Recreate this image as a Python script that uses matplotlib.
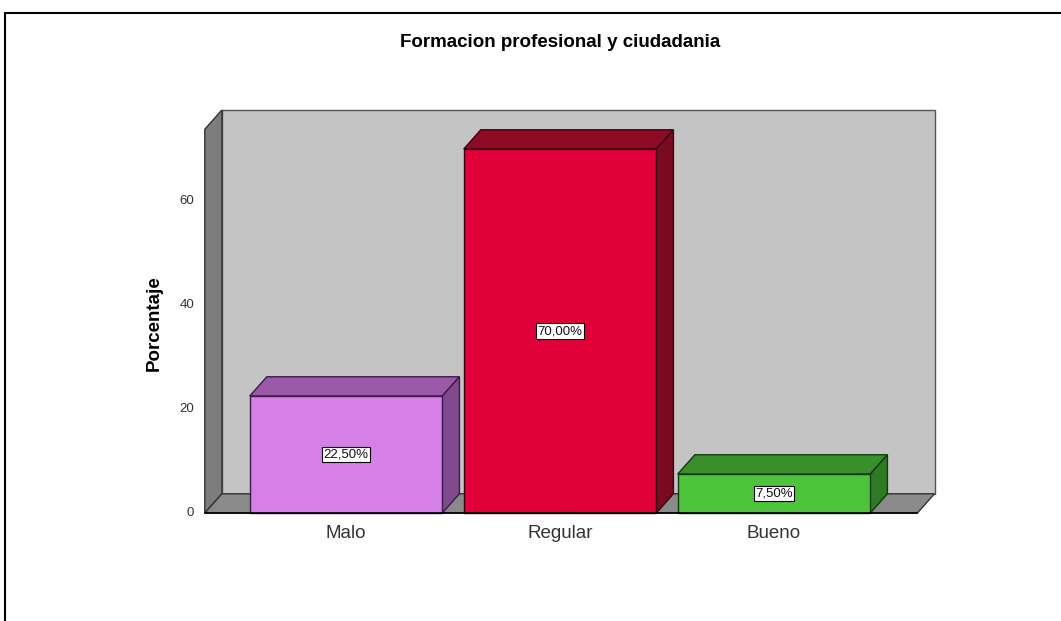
import matplotlib
matplotlib.use("Agg")
import matplotlib.pyplot as plt
from matplotlib.patches import Polygon, Rectangle

plt.rcParams['font.family'] = ['Liberation Sans', 'DejaVu Sans']

# Data
categories = ["Malo", "Regular", "Bueno"]
percentages = [22.5, 70.0, 7.5]
labels = ["22,50%", "70,00%", "7,50%"]
yticks = [0, 20, 40, 60]

# Colours (front, top, side)
front_colors = ["#d67fe6", "#e2003a", "#4ec43c"]
top_colors = ["#9a5aa8", "#8e0b25", "#3a8f2c"]
side_colors = ["#7f4a8e", "#7a0a20", "#2f7a24"]
edge_colors = ["#3a1a4a", "#3a0010", "#123a10"]

# 3D look
dx, dy = 0.08, 3.7
bar_w = 0.9
x0, x1 = -0.66, 2.67
wall_top = 73.8

fig = plt.figure(figsize=(10.61, 6.21), dpi=100)
ax = fig.add_axes([0.0841, 0.0483, 0.8471, 0.8792])
ax.set_xlim(-1.2, 3.0)
ax.set_ylim(-15, 90)
ax.axis("off")

# outer frame
fig.patches.append(Rectangle((0.005, -0.1), 1.2, 1.079, transform=fig.transFigure,
                             fill=False, edgecolor="black", linewidth=1.5))

# back wall
ax.add_patch(Polygon([(x0 + dx, dy), (x1 + dx, dy), (x1 + dx, wall_top + dy), (x0 + dx, wall_top + dy)],
                     closed=True, facecolor="#c4c4c4", edgecolor="#555555", linewidth=1))
# left wall
ax.add_patch(Polygon([(x0, 0), (x0 + dx, dy), (x0 + dx, wall_top + dy), (x0, wall_top)],
                     closed=True, facecolor="#7d7d7d", edgecolor="#333333", linewidth=1))
# floor
ax.add_patch(Polygon([(x0, 0), (x1, 0), (x1 + dx, dy), (x0 + dx, dy)],
                     closed=True, facecolor="#8a8a8a", edgecolor="#333333", linewidth=1))

# bars
for i, v in enumerate(percentages):
    l, r = i - bar_w / 2, i + bar_w / 2
    ax.add_patch(Polygon([(l, v), (r, v), (r + dx, v + dy), (l + dx, v + dy)], closed=True,
                         facecolor=top_colors[i], edgecolor=edge_colors[i], linewidth=1))
    ax.add_patch(Polygon([(r, 0), (r + dx, dy), (r + dx, v + dy), (r, v)], closed=True,
                         facecolor=side_colors[i], edgecolor=edge_colors[i], linewidth=1))
    ax.add_patch(Rectangle((l, 0), bar_w, v, facecolor=front_colors[i],
                           edgecolor=edge_colors[i], linewidth=1))
    ax.text(i, v / 2, labels[i], ha="center", va="center", fontsize=9.5, color="#111111",
            bbox=dict(boxstyle="square,pad=0.12", facecolor="white", edgecolor="black", linewidth=0.8))
    ax.text(i, -2.4, categories[i], ha="center", va="top", fontsize=13.5, color="#333333")

# axis line
ax.plot([x0, x1], [0, 0], color="black", linewidth=1.2)

# y ticks
for t in yticks:
    ax.text(x0 - 0.05, t, str(t), ha="right", va="center", fontsize=9.5, color="#333333")

ax.text(x0 - 0.235, 36.5, "Porcentaje", rotation=90, ha="center", va="center",
        fontsize=13.5, fontweight="bold")
ax.text(1.0, 90.5, "Formacion profesional y ciudadania", ha="center", va="center",
        fontsize=13.5, fontweight="bold")

fig.savefig("out.png", dpi=100, facecolor="white")
